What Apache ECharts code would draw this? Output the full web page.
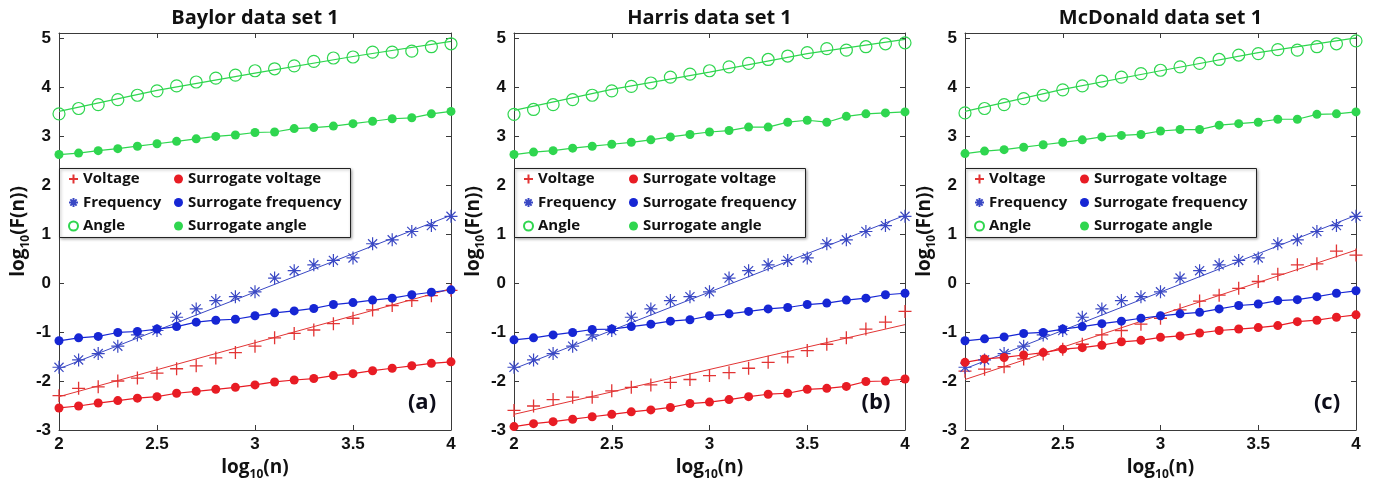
<!DOCTYPE html>
<html>
<head>
<meta charset="utf-8">
<script src="https://cdn.jsdelivr.net/npm/echarts@6/dist/echarts.min.js"></script>
<style>
html,body{margin:0;padding:0;background:#fff;}
#chart{width:1374px;height:480px;}
</style>
</head>
<body>
<div id="chart"></div>
<script>
// ---------------- data ----------------
const logN = [2.0,2.1,2.2,2.3,2.4,2.5,2.6,2.7,2.8,2.9,3.0,3.1,3.2,3.3,3.4,3.5,3.6,3.7,3.8,3.9,4.0];
const xTicks = [2, 2.5, 3, 3.5, 4];
const yTicks = [-3,-2,-1,0,1,2,3,4,5];
const panelTitles = ['Baylor data set 1', 'Harris data set 1', 'McDonald data set 1'];
const panelLabels = ['(a)', '(b)', '(c)'];
const seriesNames = ['Voltage', 'Frequency', 'Angle', 'Surrogate voltage', 'Surrogate frequency', 'Surrogate angle'];

// Baylor
const baylorVoltage       = [-2.30,-2.15,-2.12,-2.00,-1.94,-1.84,-1.75,-1.69,-1.53,-1.42,-1.29,-1.12,-1.03,-0.96,-0.83,-0.72,-0.55,-0.46,-0.36,-0.26,-0.15];
const baylorFrequency     = [-1.72,-1.57,-1.44,-1.29,-1.06,-0.97,-0.70,-0.53,-0.36,-0.28,-0.18,0.10,0.25,0.37,0.46,0.51,0.80,0.88,1.05,1.17,1.36];
const baylorAngle         = [3.45,3.56,3.64,3.74,3.83,3.92,4.02,4.10,4.18,4.24,4.33,4.37,4.43,4.52,4.59,4.61,4.71,4.71,4.73,4.82,4.88];
const baylorSurrVoltage   = [-2.55,-2.51,-2.45,-2.40,-2.35,-2.32,-2.25,-2.21,-2.17,-2.13,-2.08,-2.02,-1.98,-1.95,-1.89,-1.85,-1.79,-1.74,-1.69,-1.64,-1.61];
const baylorSurrFrequency = [-1.18,-1.12,-1.09,-1.01,-0.99,-0.94,-0.89,-0.80,-0.76,-0.74,-0.67,-0.61,-0.57,-0.52,-0.44,-0.40,-0.35,-0.31,-0.24,-0.19,-0.14];
const baylorSurrAngle     = [2.62,2.65,2.70,2.74,2.79,2.84,2.89,2.94,2.99,3.02,3.07,3.08,3.15,3.17,3.20,3.25,3.30,3.35,3.37,3.45,3.50];
const baylorVoltageFit    = [[2,-2.32],[4,-0.12]];
const baylorFrequencyFit  = [[2,-1.75],[4,1.38]];
const baylorAngleFit      = [[2,3.50],[2.5,3.93],[3,4.28],[3.5,4.62],[4,4.93]];

// Harris
const harrisVoltage       = [-2.60,-2.51,-2.38,-2.33,-2.33,-2.20,-2.13,-2.08,-2.03,-1.97,-1.89,-1.83,-1.74,-1.62,-1.51,-1.38,-1.25,-1.12,-0.94,-0.80,-0.58];
const harrisFrequency     = [-1.72,-1.57,-1.44,-1.29,-1.06,-0.97,-0.70,-0.53,-0.36,-0.28,-0.18,0.10,0.25,0.37,0.46,0.51,0.80,0.88,1.05,1.17,1.36];
const harrisAngle         = [3.44,3.54,3.64,3.74,3.83,3.92,4.01,4.08,4.20,4.26,4.33,4.41,4.48,4.56,4.63,4.70,4.78,4.75,4.82,4.88,4.90];
const harrisSurrVoltage   = [-2.93,-2.87,-2.83,-2.78,-2.73,-2.68,-2.63,-2.59,-2.54,-2.46,-2.43,-2.38,-2.32,-2.27,-2.25,-2.17,-2.15,-2.11,-2.01,-2.00,-1.96];
const harrisSurrFrequency = [-1.16,-1.12,-1.06,-1.01,-0.95,-0.94,-0.89,-0.84,-0.78,-0.75,-0.67,-0.63,-0.58,-0.53,-0.50,-0.44,-0.41,-0.35,-0.31,-0.24,-0.21];
const harrisSurrAngle     = [2.62,2.67,2.70,2.75,2.79,2.83,2.87,2.92,2.98,3.03,3.08,3.11,3.18,3.18,3.28,3.32,3.28,3.40,3.45,3.47,3.49];
const harrisVoltageFit    = [[2,-2.68],[4,-0.85]];
const harrisFrequencyFit  = [[2,-1.75],[4,1.38]];
const harrisAngleFit      = [[2,3.52],[2.5,3.95],[3,4.30],[3.5,4.68],[4,4.97]];

// McDonald
const mcdVoltage          = [-1.80,-1.76,-1.71,-1.55,-1.45,-1.35,-1.25,-1.06,-0.97,-0.84,-0.72,-0.55,-0.37,-0.25,-0.11,0.03,0.18,0.37,0.39,0.65,0.57];
const mcdFrequency        = [-1.72,-1.57,-1.44,-1.29,-1.06,-0.97,-0.70,-0.53,-0.36,-0.28,-0.18,0.10,0.25,0.37,0.46,0.51,0.80,0.88,1.05,1.17,1.36];
const mcdAngle            = [3.47,3.56,3.64,3.76,3.83,3.94,4.02,4.12,4.20,4.27,4.34,4.41,4.48,4.56,4.65,4.68,4.76,4.75,4.82,4.88,4.94];
const mcdSurrVoltage      = [-1.62,-1.55,-1.52,-1.47,-1.42,-1.35,-1.32,-1.27,-1.20,-1.17,-1.11,-1.08,-1.02,-0.97,-0.94,-0.91,-0.87,-0.79,-0.76,-0.70,-0.65];
const mcdSurrFrequency    = [-1.18,-1.14,-1.10,-1.03,-1.01,-0.94,-0.89,-0.83,-0.78,-0.72,-0.67,-0.63,-0.60,-0.53,-0.46,-0.43,-0.36,-0.34,-0.28,-0.21,-0.16];
const mcdSurrAngle        = [2.64,2.69,2.72,2.77,2.82,2.87,2.92,2.98,3.01,3.03,3.10,3.13,3.13,3.22,3.25,3.28,3.34,3.34,3.44,3.45,3.49];
const mcdVoltageFit       = [[2,-1.97],[4,0.67]];
const mcdFrequencyFit     = [[2,-1.75],[4,1.38]];
const mcdAngleFit         = [[2,3.50],[2.5,3.95],[3,4.33],[3.5,4.70],[4,5.00]];

const panels = [
  {v: baylorVoltage, f: baylorFrequency, a: baylorAngle, sv: baylorSurrVoltage, sf: baylorSurrFrequency, sa: baylorSurrAngle, vFit: baylorVoltageFit, fFit: baylorFrequencyFit, aFit: baylorAngleFit},
  {v: harrisVoltage, f: harrisFrequency, a: harrisAngle, sv: harrisSurrVoltage, sf: harrisSurrFrequency, sa: harrisSurrAngle, vFit: harrisVoltageFit, fFit: harrisFrequencyFit, aFit: harrisAngleFit},
  {v: mcdVoltage, f: mcdFrequency, a: mcdAngle, sv: mcdSurrVoltage, sf: mcdSurrFrequency, sa: mcdSurrAngle, vFit: mcdVoltageFit, fFit: mcdFrequencyFit, aFit: mcdAngleFit}
];

// ---------------- style ----------------
const RED = '#e81c24', RED_PLUS = '#e23434';
const BLUE = '#1626d4', BLUE_STAR = '#3a48c4';
const GREEN = '#2fd64f';
const AXIS = '#3a3a3a';
const TXT = '#111111';
const SANS = '"Liberation Sans", Arial, sans-serif';
const HUM = '"Open Sans", "Liberation Sans", sans-serif';
const PLUS = 'path://M0,-1L0,1M-1,0L1,0';
const STAR = 'path://M0,-1L0,1M-1,0L1,0M-0.7,-0.7L0.7,0.7M-0.7,0.7L0.7,-0.7';

const gridLeft = [59, 514, 965];
const gridWidth = [392, 391, 391];
const gridTop = 33, gridHeight = 397;

const pairs = arr => logN.map((x, i) => [x, arr[i]]);

const grids = [], xAxes = [], yAxes = [], series = [], legends = [], graphics = [];

const richName = {
  a: {fontFamily: HUM, fontWeight: 'bold', fontSize: 19, color: TXT, lineHeight: 26, verticalAlign: 'middle'},
  s: {fontFamily: HUM, fontWeight: 'bold', fontSize: 12, color: TXT, lineHeight: 26, verticalAlign: 'bottom'}
};

panels.forEach((p, i) => {
  grids.push({left: gridLeft[i], top: gridTop, width: gridWidth[i], height: gridHeight, containLabel: false, outerBoundsMode: 'none'});
  const common = {
    type: 'value', gridIndex: i, splitLine: {show: false},
    axisLine: {show: true, onZero: false, lineStyle: {color: AXIS, width: 1}},
    axisTick: {show: true, inside: true, length: 5, lineStyle: {color: AXIS, width: 1}}
  };
  xAxes.push(Object.assign({}, common, {
    position: 'bottom', min: xTicks[0], max: xTicks[xTicks.length - 1], interval: 0.5,
    axisLabel: {show: true, margin: 6, fontFamily: SANS, fontWeight: 'bold', fontSize: 17, color: TXT},
    name: '{a|log}{s|10}{a|(n)}', nameLocation: 'middle', nameGap: 20,
    nameTextStyle: {rich: richName}
  }));
  xAxes.push(Object.assign({}, common, {
    position: 'top', min: xTicks[0], max: xTicks[xTicks.length - 1], interval: 0.5,
    axisLabel: {show: false}
  }));
  yAxes.push(Object.assign({}, common, {
    position: 'left', min: yTicks[0], max: 5.1, interval: 1,
    axisLabel: {show: true, margin: 8, fontFamily: SANS, fontWeight: 'bold', fontSize: 17, color: TXT,
      formatter: v => (yTicks.indexOf(v) >= 0 ? String(v) : '')},
    name: '{a|log}{s|10}{a|(F(n))}', nameLocation: 'middle', nameGap: 27, nameRotate: 90,
    nameTextStyle: {rich: richName}
  }));
  yAxes.push(Object.assign({}, common, {
    position: 'right', min: yTicks[0], max: 5.1, interval: 1,
    axisLabel: {show: false}
  }));

  const xi = 2 * i, yi = 2 * i;
  const sc = (name, data, symbol, size, itemStyle) => ({
    type: 'scatter', name, xAxisIndex: xi, yAxisIndex: yi, data: pairs(data),
    symbol, symbolSize: size, itemStyle: Object.assign({opacity: 1}, itemStyle), z: 3, silent: true, animation: false
  });
  const ln = (name, data, color, width) => ({
    type: 'line', name, xAxisIndex: xi, yAxisIndex: yi, data, symbol: 'none',
    lineStyle: {color, width, opacity: 1}, itemStyle: {color}, z: 2, silent: true, animation: false
  });
  // markers first so legend uses their icons
  series.push(sc('Voltage', p.v, PLUS, 13, {color: RED_PLUS, borderColor: RED_PLUS, borderWidth: 1.3}));
  series.push(sc('Frequency', p.f, STAR, 13, {color: BLUE_STAR, borderColor: BLUE_STAR, borderWidth: 1.2}));
  series.push(sc('Angle', p.a, 'circle', 12, {color: 'rgba(0,0,0,0)', borderColor: GREEN, borderWidth: 1.2}));
  series.push(sc('Surrogate voltage', p.sv, 'circle', 9, {color: RED}));
  series.push(sc('Surrogate frequency', p.sf, 'circle', 9, {color: BLUE}));
  series.push(sc('Surrogate angle', p.sa, 'circle', 9, {color: GREEN}));
  series.push(ln('Voltage', p.vFit, RED_PLUS, 1));
  series.push(ln('Frequency', p.fFit, BLUE_STAR, 1));
  series.push(ln('Angle', p.aFit, GREEN, 1.2));
  series.push(ln('Surrogate voltage', pairs(p.sv), RED, 1.2));
  series.push(ln('Surrogate frequency', pairs(p.sf), BLUE, 1.2));
  series.push(ln('Surrogate angle', pairs(p.sa), GREEN, 1.2));

  const legStyle = {
    orient: 'vertical', top: 171, padding: 0, itemGap: 7.5, itemWidth: 9, itemHeight: 9,
    textStyle: {fontFamily: HUM, fontWeight: 'bold', fontSize: 15, color: TXT, lineHeight: 16},
    selectedMode: false, z: 5
  };
  legends.push(Object.assign({}, legStyle, {left: gridLeft[i] + 9, data: seriesNames.slice(0, 3)}));
  legends.push(Object.assign({}, legStyle, {left: gridLeft[i] + 115, data: seriesNames.slice(3)}));

  graphics.push({
    type: 'rect', z: 4,
    shape: {x: gridLeft[i] + 0.5, y: 168.5, width: 291, height: 69},
    style: {fill: '#fff', stroke: '#222', lineWidth: 1, shadowBlur: 3, shadowColor: 'rgba(0,0,0,0.35)', shadowOffsetX: 1, shadowOffsetY: 1}
  });
  graphics.push({
    type: 'text', z: 5,
    style: {text: panelTitles[i], x: gridLeft[i] + gridWidth[i] / 2, y: 18, textAlign: 'center', textVerticalAlign: 'middle',
      font: 'bold 20px ' + HUM, fill: TXT}
  });
  graphics.push({
    type: 'text', z: 5,
    style: {text: panelLabels[i], x: gridLeft[i] + gridWidth[i] - 29, y: 403, textAlign: 'center', textVerticalAlign: 'middle',
      font: 'bold 22px ' + HUM, fill: '#0d0d1a'}
  });
});

const chart = echarts.init(document.getElementById('chart'), null, {renderer: 'canvas'});
chart.setOption({
  animation: false,
  backgroundColor: '#fff',
  grid: grids,
  xAxis: xAxes,
  yAxis: yAxes,
  legend: legends,
  graphic: {elements: graphics},
  series: series
});
</script>
</body>
</html>
